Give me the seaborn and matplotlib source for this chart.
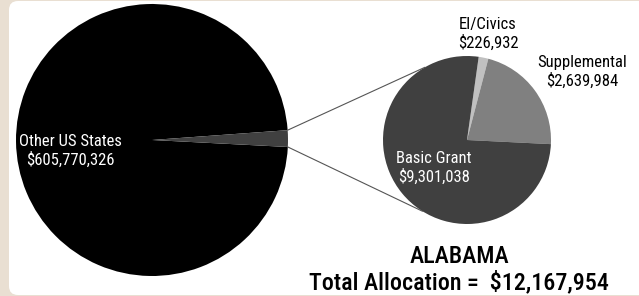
import numpy as np
import matplotlib
matplotlib.use("Agg")
import matplotlib.pyplot as plt
import seaborn as sns
from matplotlib.patches import FancyBboxPatch, Rectangle

# data
outer_labels = ["Other US States", "Alabama"]
outer_values = [605770326, 12167954]
outer_colors = ["#000000", "#404040"]

inner_labels = ["EI/Civics", "Supplemental", "Basic Grant"]
inner_values = [226932, 2639984, 9301038]
inner_colors = ["#c0c0c0", "#808080", "#404040"]
inner_text_colors = ["black", "black", "white"]

state_name = "ALABAMA"
total_alloc = sum(inner_values)

sns.set_theme(style="white")
plt.rcParams["font.family"] = ["Roboto Condensed", "Liberation Sans", "DejaVu Sans"]

W, H = 639, 296
fig = plt.figure(figsize=(W / 100, H / 100), dpi=100)
fig.patch.set_facecolor("#e9dfd2")
ax = fig.add_axes([0, 0, 1, 1])

# panel background
ax.add_patch(Rectangle((0, 0), W, H, facecolor="#e9dfd2", edgecolor="none", zorder=0))
ax.add_patch(FancyBboxPatch((9, 1), W + 40, H - 2,
                            boxstyle="round,pad=0,rounding_size=9",
                            facecolor="white", edgecolor="none", zorder=0.5))

big_c, big_r = (152, 156), 136
small_c, small_r = (467, 156), 84

frac = outer_values[1] / sum(outer_values)
start = 360 * frac / 2 + 0.6
wedges1, _ = ax.pie(outer_values, colors=outer_colors, startangle=start,
                    center=big_c, radius=big_r, frame=True,
                    wedgeprops=dict(linewidth=0))
wedges2, _ = ax.pie(inner_values, colors=inner_colors, startangle=82,
                    counterclock=False, center=small_c, radius=small_r, frame=True,
                    wedgeprops=dict(linewidth=0))
ax.set_xlim(0, W)
ax.set_ylim(0, H)
ax.set_aspect("equal")
ax.axis("off")

# connector lines from the state slice to the breakdown pie
al = wedges1[1]
for a_big, a_small in [(al.theta2, 120), (al.theta1, -122)]:
    x0 = big_c[0] + big_r * np.cos(np.radians(a_big))
    y0 = big_c[1] + big_r * np.sin(np.radians(a_big))
    x1 = small_c[0] + small_r * np.cos(np.radians(a_small))
    y1 = small_c[1] + small_r * np.sin(np.radians(a_small))
    ax.plot([x0, x1], [y0, y1], color="#555555", lw=0.8, zorder=1)

fs = 12
ax.text(70, 145, f"{outer_labels[0]}\n${outer_values[0]:,}", color="white",
        ha="center", va="center", fontsize=fs, linespacing=1.25)

label_pos = [(488, 262), (582, 224), (434, 128)]
for lab, val, tc, (x, y) in zip(inner_labels, inner_values, inner_text_colors, label_pos):
    ax.text(x, y, f"{lab}\n${val:,}", color=tc, ha="center", va="center",
            fontsize=fs, linespacing=1.25)

ax.text(459, 26, f"{state_name}\nTotal Allocation =  ${total_alloc:,}", color="black",
        ha="center", va="center", fontsize=17.3, fontweight="medium", linespacing=1.15)

fig.savefig("out.png", dpi=100, facecolor=fig.get_facecolor())
